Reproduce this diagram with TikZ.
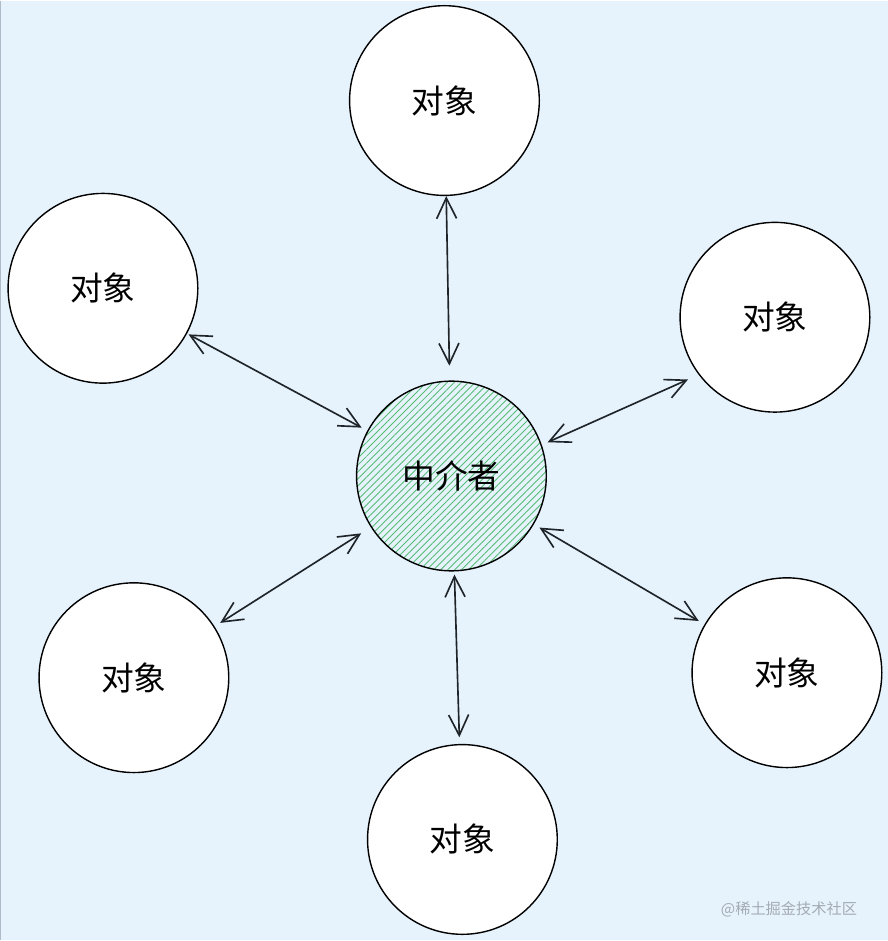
\documentclass[tikz,border=0pt]{standalone}
\usepackage{fontspec}
\setmainfont{Noto Sans CJK SC}
\usetikzlibrary{arrows.meta,patterns.meta}
\definecolor{PageBlue}{HTML}{E6F3FD}
\definecolor{PageEdge}{HTML}{AEBBC8}
\definecolor{HatchGreen}{HTML}{55BC74}
\definecolor{LinkDark}{HTML}{1E2428}
\definecolor{MarkGray}{HTML}{A3ABB3}
\begin{document}
\begin{tikzpicture}[x=0.03cm, y=-0.03cm,
    obj/.style={circle, draw=black, fill=white, line width=1.2pt,
                minimum size=5.7cm, inner sep=0pt,
                font=\fontsize{28}{30}\selectfont},
    mediator/.style={obj, pattern={Lines[angle=45, distance=4.2pt, line width=0.75pt]},
                     pattern color=HatchGreen},
    link/.style={{Straight Barb[length=0.62cm, width=0.6cm]}-{Straight Barb[length=0.62cm, width=0.6cm]},
                 line width=1.4pt, LinkDark, shorten <=0.2cm, shorten >=0.2cm},
    watermark/.style={font=\fontsize{13}{15}\selectfont, MarkGray}
  ]
    \fill[PageBlue] (0,0) rectangle (889,941);
    \draw[PageEdge, line width=1.2pt] (0.6,0) -- (0.6,941);

    \node[mediator] (mid) at (452,476) {中介者};

    \node[obj] (top) at (445,100) {对象};
    \node[obj] (ul) at (103,288) {对象};
    \node[obj] (ur) at (776,317) {对象};
    \node[obj] (ll) at (134,678) {对象};
    \node[obj] (lr) at (788,673) {对象};
    \node[obj] (bot) at (463,840) {对象};

    \draw[link, shorten <=0pt, shorten >=0.45cm] (top) -- (mid);
    \draw[link, shorten <=0.05cm] (ul) -- (mid);
    \draw[link, shorten <=0.35cm] (ur.217) -- (mid.19);
    \draw[link, shorten >=0.35cm] (ll) -- (mid);
    \draw[link] (lr) -- (mid);
    \draw[link, shorten >=0.1cm] (bot) -- (mid);

    \node[watermark] (wm) at (790,910) {@稀土掘金技术社区};
\end{tikzpicture}
\end{document}
